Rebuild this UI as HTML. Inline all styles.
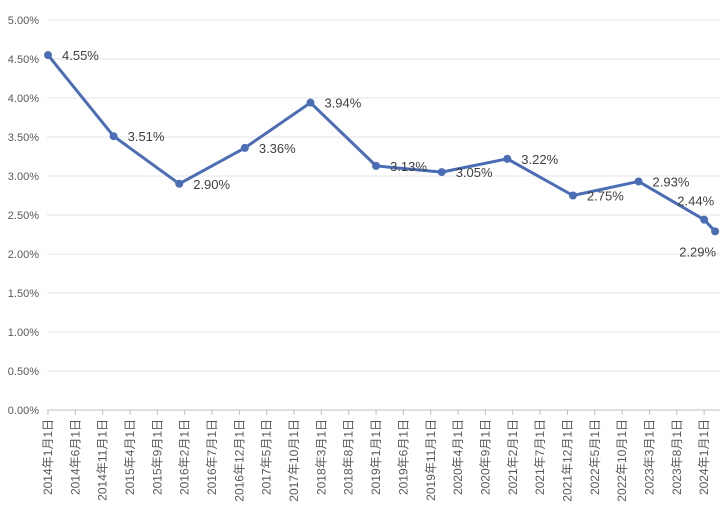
<!DOCTYPE html>
<html><head><meta charset="utf-8"><style>body{margin:0;background:#fff}</style></head>
<body>
<svg id="c" width="720" height="514" xmlns="http://www.w3.org/2000/svg" font-family="Liberation Sans, Noto Sans CJK SC, sans-serif"></svg>
<script>
const tickLabels=["2014年1月1日","2014年6月1日","2014年11月1日","2015年4月1日","2015年9月1日","2016年2月1日","2016年7月1日","2016年12月1日","2017年5月1日","2017年10月1日","2018年3月1日","2018年8月1日","2019年1月1日","2019年6月1日","2019年11月1日","2020年4月1日","2020年9月1日","2021年2月1日","2021年7月1日","2021年12月1日","2022年5月1日","2022年10月1日","2023年3月1日","2023年8月1日","2024年1月1日"];
const pointMonths=[0,12,24,36,48,60,72,84,96,108,120,122];
const rates=[4.55,3.51,2.90,3.36,3.94,3.13,3.05,3.22,2.75,2.93,2.44,2.29];
const yTicks=[0,0.5,1,1.5,2,2.5,3,3.5,4,4.5,5];
const svg=document.getElementById('c');const NS='http://www.w3.org/2000/svg';
function mk(t,a,p){const e=document.createElementNS(NS,t);for(const k in a)e.setAttribute(k,a[k]);(p||svg).appendChild(e);return e;}
const x0=48,pxPerMonth=5.468;
const X=m=>x0+m*pxPerMonth;
const Y=v=>410-v*78;
yTicks.forEach(v=>{
 const g=mk('line',{x1:47,x2:720,y1:Y(v),y2:Y(v),stroke:v===0?'#bfbfbf':'#e4e4e4','stroke-width':1});
 
 
 const t=mk('text',{x:39,y:Y(v)+4,'text-anchor':'end','font-size':11,fill:'#595959'});
 t.textContent=v.toFixed(2)+'%';
 
 
});
tickLabels.forEach((l,i)=>{
 const x=X(i*5);
 const tk=mk('line',{x1:x,x2:x,y1:410,y2:415,stroke:'#bfbfbf'});
 
 
 const t=mk('text',{x:0,y:0,'text-anchor':'end','font-size':12,fill:'#595959',transform:`translate(${x+4},419) rotate(-90)`});
 t.textContent=l;
 
 
});
const pl=mk('polyline',{points:pointMonths.map((m,i)=>X(m)+','+Y(rates[i])).join(' '),fill:'none',stroke:'#4a6db5','stroke-width':3,'stroke-linejoin':'round'});


pointMonths.forEach((m,i)=>{
 const c=mk('circle',{cx:X(m),cy:Y(rates[i]),r:4,fill:'#4a6db5'});
 
 
 let dx=14,dy=5,anc='start';
 if(i===pointMonths.length-2){dx=10;dy=-14;anc='end';}
 if(i===pointMonths.length-1){dx=1;dy=25;anc='end';}
 const t=mk('text',{x:X(m)+dx,y:Y(rates[i])+dy,'font-size':13,fill:'#404040','text-anchor':anc});
 t.textContent=rates[i].toFixed(2)+'%';
 
 
});
</script>
</body></html>
